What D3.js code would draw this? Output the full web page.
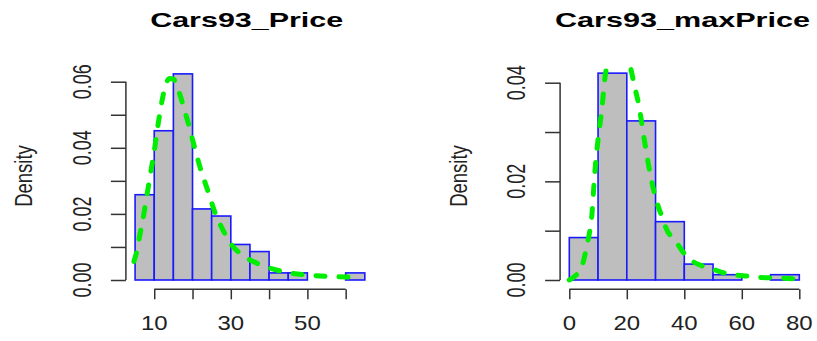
<!DOCTYPE html>
<html>
<head>
<meta charset="utf-8">
<script src="https://cdn.jsdelivr.net/npm/d3@7"></script>
<style>
  html, body { margin: 0; padding: 0; background: #fff; }
  svg { display: block; font-family: "Liberation Sans", Arial, sans-serif; }
</style>
</head>
<body>
<div id="chart"></div>
<script>
// histogram of Cars93$Price (bin width 5)
const priceBreaks = [5, 10, 15, 20, 25, 30, 35, 40, 45, 50, 55, 60, 65];
const priceCounts = [12, 21, 29, 10, 9, 5, 4, 1, 1, 0, 0, 1];
// density curve: [x, density]
const priceCurve = [
  [4.7, 0.0056], [5.5, 0.0090], [6.3, 0.0140], [7.0, 0.0180], [8.0, 0.0250],
  [9.0, 0.0320], [10.0, 0.0390], [11.0, 0.0470], [12.0, 0.0540], [13.0, 0.0590],
  [14.0, 0.0610], [15.0, 0.0608], [16.0, 0.0585], [17.0, 0.0550], [18.0, 0.0510],
  [19.0, 0.0470], [20.0, 0.0425], [22.0, 0.0340], [24.0, 0.0270], [26.0, 0.0200],
  [28.0, 0.0150], [30.0, 0.0110], [33.0, 0.0075], [36.0, 0.0055], [40.0, 0.0037],
  [45.0, 0.0022], [50.0, 0.0015], [55.0, 0.0011], [60.0, 0.0009], [62.8, 0.0008]
];
const priceTicksX = [10, 20, 30, 40, 50, 60];
const priceTickLabelsX = ['10', '', '30', '', '50', ''];
const priceTicksY = [0, 0.01, 0.02, 0.03, 0.04, 0.05, 0.06];
const priceTickLabelsY = ['0.00', '', '0.02', '', '0.04', '', '0.06'];

// histogram of Cars93$Max.Price (bin width 10)
const maxPriceBreaks = [0, 10, 20, 30, 40, 50, 60, 70, 80];
const maxPriceCounts = [8, 39, 30, 11, 3, 1, 0, 1];
const maxPriceCurve = [
  [0.0, 0.0000], [2.0, 0.0008], [3.7, 0.0020], [5.0, 0.0040], [6.0, 0.0067],
  [7.0, 0.0095], [7.8, 0.0128], [8.9, 0.0220], [10.1, 0.0290], [11.3, 0.0345],
  [12.4, 0.0410], [13.5, 0.0445], [15.0, 0.0468], [17.0, 0.0478], [19.0, 0.0465],
  [21.1, 0.0435], [22.8, 0.0390], [24.0, 0.0360], [26.3, 0.0277], [28.1, 0.0216],
  [30.4, 0.0159], [32.1, 0.0130], [33.9, 0.0102], [36.8, 0.0080], [40.2, 0.0052],
  [43.1, 0.0037], [47.0, 0.0027], [51.3, 0.0019], [54.2, 0.0014], [58.0, 0.0010],
  [61.7, 0.0008], [66.9, 0.0005], [73.3, 0.0004], [79.7, 0.0002]
];
const maxPriceTicksX = [0, 20, 40, 60, 80];
const maxPriceTickLabelsX = ['0', '20', '40', '60', '80'];
const maxPriceTicksY = [0, 0.01, 0.02, 0.03, 0.04];
const maxPriceTickLabelsY = ['0.00', '', '0.02', '', '0.04'];

const nCars = 93;

const svg = d3.select('#chart').append('svg')
  .attr('width', 817)
  .attr('height', 341);

function drawPanel(p) {
  const bins = p.counts.map((c, i) => ({
    x0: p.breaks[i],
    x1: p.breaks[i + 1],
    density: c / (nCars * (p.breaks[i + 1] - p.breaks[i]))
  }));
  const maxD = d3.max(bins, d => d.density);

  const x = d3.scaleLinear().domain(p.xDomain).range(p.xRange);
  const y = d3.scaleLinear().domain(p.yDomain).range(p.yRange);

  const g = svg.append('g');

  // clip to plot region (R extends ylim by 4%)
  const clipId = 'clip-' + p.id;
  g.append('clipPath').attr('id', clipId)
    .append('rect')
    .attr('x', p.xRange[0])
    .attr('y', y(maxD * 1.04))
    .attr('width', p.xRange[1] - p.xRange[0])
    .attr('height', y(-maxD * 0.04) - y(maxD * 1.04));

  // bars
  g.selectAll('.bar')
    .data(bins)
    .enter().append('rect')
    .attr('class', 'bar')
    .attr('x', d => x(d.x0))
    .attr('y', d => y(d.density))
    .attr('width', d => x(d.x1) - x(d.x0))
    .attr('height', d => y(0) - y(d.density))
    .attr('fill', '#bebebe')
    .attr('stroke', '#1a1aff')
    .attr('stroke-width', 1.6);

  // density curve
  const line = d3.line()
    .x(d => x(d[0]))
    .y(d => y(d[1]))
    .curve(d3.curveMonotoneX);

  g.append('path')
    .datum(p.curve)
    .attr('clip-path', `url(#${clipId})`)
    .attr('d', line)
    .attr('fill', 'none')
    .attr('stroke', '#00ee00')
    .attr('stroke-width', 5)
    .attr('stroke-linecap', 'round')
    .attr('stroke-dasharray', '9,14');

  // x axis
  const xAxis = g.append('g')
    .attr('transform', `translate(0,${p.xAxisY})`)
    .call(d3.axisBottom(x).tickValues(p.ticksX).tickFormat('').tickSizeOuter(0).tickSize(10));
  xAxis.select('.domain').attr('d', `M${x(p.ticksX[0])},0H${x(p.ticksX[p.ticksX.length - 1])}`);
  xAxis.selectAll('path, line').attr('stroke', '#333').attr('stroke-width', 1.5);

  p.ticksX.forEach((t, i) => {
    if (!p.tickLabelsX[i]) return;
    g.append('text')
      .attr('transform', `translate(${x(t)},330) scale(1.2,1)`)
      .attr('text-anchor', 'middle')
      .attr('font-size', 20)
      .attr('fill', '#222')
      .text(p.tickLabelsX[i]);
  });

  // y axis
  const yAxis = g.append('g')
    .attr('transform', `translate(${p.xRange[0]},0)`)
    .call(d3.axisLeft(y).tickValues(p.ticksY).tickFormat('').tickSizeOuter(0).tickSize(15));
  yAxis.select('.domain').attr('d', `M0,${y(p.ticksY[0])}V${y(p.ticksY[p.ticksY.length - 1])}`);
  yAxis.selectAll('path, line').attr('stroke', '#333').attr('stroke-width', 1.5);

  p.ticksY.forEach((t, i) => {
    if (!p.tickLabelsY[i]) return;
    g.append('text')
      .attr('transform', `translate(${p.xRange[0] - 44},${y(t)}) scale(1.4,1) rotate(-90)`)
      .attr('text-anchor', 'middle')
      .attr('dy', '0.35em')
      .attr('font-size', 18)
      .attr('fill', '#222')
      .text(p.tickLabelsY[i]);
  });

  // y label
  g.append('text')
    .attr('transform', `translate(${p.xRange[0] - 102},176) scale(1.3,1) rotate(-90)`)
    .attr('text-anchor', 'middle')
    .attr('dy', '0.35em')
    .attr('font-size', 18.5)
    .attr('fill', '#222')
    .text('Density');

  // title
  g.append('text')
    .attr('x', p.titleX)
    .attr('y', 26.7)
    .attr('text-anchor', 'middle')
    .attr('font-size', 21)
    .attr('font-weight', 'bold')
    .attr('fill', '#000')
    .attr('textLength', p.titleWidth)
    .attr('lengthAdjust', 'spacingAndGlyphs')
    .text(p.title);
}

drawPanel({
  id: 'price',
  title: 'Cars93_Price',
  titleX: 246.7,
  titleWidth: 193,
  breaks: priceBreaks,
  counts: priceCounts,
  curve: priceCurve,
  xDomain: [2.6, 67.4],
  xRange: [125.9, 374.0],
  yDomain: [0, 0.06],
  yRange: [280, 81.7],
  xAxisY: 289.3,
  ticksX: priceTicksX,
  tickLabelsX: priceTickLabelsX,
  ticksY: priceTicksY,
  tickLabelsY: priceTickLabelsY
});

drawPanel({
  id: 'maxprice',
  title: 'Cars93_maxPrice',
  titleX: 682.5,
  titleWidth: 255,
  breaks: maxPriceBreaks,
  counts: maxPriceCounts,
  curve: maxPriceCurve,
  xDomain: [-3.2, 83.2],
  xRange: [560.1, 808.5],
  yDomain: [0, 0.04],
  yRange: [280, 82.7],
  xAxisY: 289.3,
  ticksX: maxPriceTicksX,
  tickLabelsX: maxPriceTickLabelsX,
  ticksY: maxPriceTicksY,
  tickLabelsY: maxPriceTickLabelsY
});
</script>
</body>
</html>
